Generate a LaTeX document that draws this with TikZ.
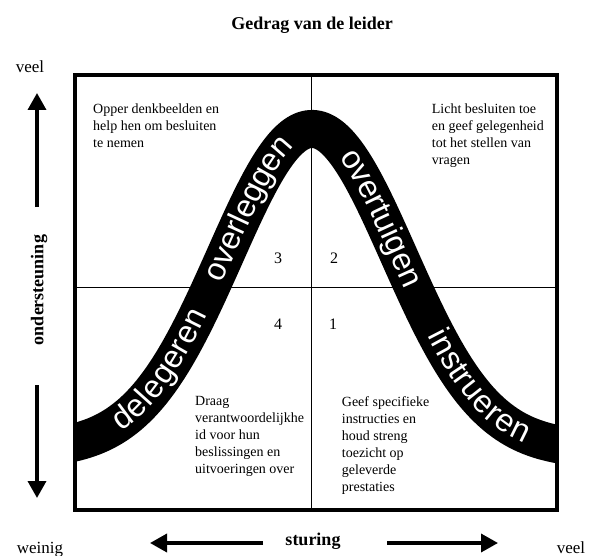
\documentclass[tikz,border=0pt]{standalone}
\usepackage{fontspec}
\setmainfont{Liberation Serif}
\setsansfont{Liberation Sans}
\usetikzlibrary{arrows.meta,decorations.text}

\newcommand\bandfont{\color{white}\sffamily\fontsize{32}{32}\selectfont}

\begin{document}
\begin{tikzpicture}[x=1pt,y=-1pt,
    declare function={bell(\t)=450-321*exp(-0.5*((\t-312)/86.8)*((\t-312)/86.8));},
    frame/.style={line width=4.5pt},
    quad/.style={line width=1pt},
    axisarrow/.style={line width=3.5pt,-{Triangle[length=17pt,width=18pt]}},
    bandword/.style={decorate,decoration={text along path,text align=center,
        raise=-8.5pt,text={|\bandfont|#1}}},
    lbl/.style={font=\fontsize{17}{20}\selectfont},
    boldlbl/.style={font=\bfseries\fontsize{18}{21}\selectfont},
    quadtxt/.style={anchor=north west,inner sep=0pt,align=left,
        font=\fontsize{14}{16.9}\selectfont},
    num/.style={font=\fontsize{16}{18}\selectfont}]
\useasboundingbox (0,0) rectangle (591,556);

% kwadranten
\draw[quad] (311,75) -- (311,510);
\draw[quad] (75,287) -- (557,287);

% de curve
\begin{scope}
\clip (75,75) rectangle (557,510);
\draw[line width=38pt] plot[domain=55:575,samples=120,smooth] (\x,{bell(\x)});
\end{scope}
\path[bandword=delegeren] plot[domain=108.5:203.7,samples=18] (\x,{bell(\x)});
\path[bandword=overleggen] plot[domain=209.5:296.2,samples=18] (\x,{bell(\x)});
\path[bandword=overtuigen] plot[domain=339.1:417.3,samples=18] (\x,{bell(\x)});
\path[bandword=instrueren] plot[domain=430.6:536.6,samples=18] (\x,{bell(\x)});

\draw[frame] (75,75) rectangle (557,510);

% teksten
\node[boldlbl] (titel) at (312,25) {Gedrag van de leider};
\node[quadtxt] (q3) at (93,103.4) {Opper denkbeelden en\\help hen om besluiten\\te nemen};
\node[quadtxt] (q2) at (431.7,103.4) {Licht besluiten toe\\en geef gelegenheid\\tot het stellen van\\vragen};
\node[quadtxt] (q4) at (195,396.5) {Draag\\verantwoordelijkhe\\id voor hun\\beslissingen en\\uitvoeringen over};
\node[quadtxt] (q1) at (341.7,396.5) {Geef specifieke\\instructies en\\houd streng\\toezicht op\\geleverde\\prestaties};

\node[num] (n3) at (278,258) {3};
\node[num] (n2) at (334,258) {2};
\node[num] (n4) at (278,324) {4};
\node[num] (n1) at (333,324) {1};

% assen
\node[lbl] (veelboven) at (30,67) {veel};
\node[lbl,anchor=base] (weinig) at (40,553) {weinig};
\node[lbl,anchor=base] (veelrechts) at (571,553) {veel};
\node[boldlbl,rotate=90] (onder) at (39,290) {ondersteuning};
\node[boldlbl,anchor=base] (sturing) at (313,545) {sturing};

\coordinate (opS) at (37,207);
\coordinate (opE) at (37,93);
\coordinate (neerS) at (37,385);
\coordinate (neerE) at (37,498);
\coordinate (linksS) at (263,543);
\coordinate (linksE) at (150,543);
\coordinate (rechtsS) at (387,543);
\coordinate (rechtsE) at (498,543);
\draw[axisarrow] (opS) -- (opE);
\draw[axisarrow] (neerS) -- (neerE);
\draw[axisarrow] (linksS) -- (linksE);
\draw[axisarrow] (rechtsS) -- (rechtsE);
\end{tikzpicture}
\end{document}
